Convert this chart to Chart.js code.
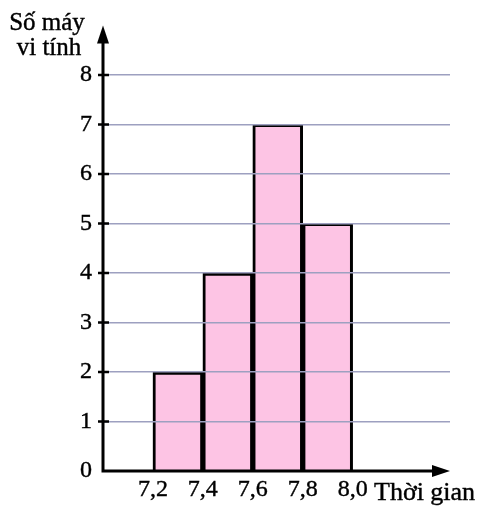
<!DOCTYPE html>
<html>
<head>
<meta charset="utf-8">
<script src="https://cdn.jsdelivr.net/npm/chart.js@4.4.0/dist/chart.umd.min.js"></script>
<style>
  body { margin: 0; background: #fff; }
  #wrap { width: 486px; height: 515px; }
</style>
</head>
<body>
<div id="wrap"><canvas id="histChart" width="486" height="515"></canvas></div>
<script>
// class midpoints (7,2-7,4 ... 7,8-8,0) and counts
const midpoints = [7.3, 7.5, 7.7, 7.9];
const counts = [2, 4, 7, 5];
const xTickValues = [7.2, 7.4, 7.6, 7.8, 8.0];
const xTickLabels = ["7,2", "7,4", "7,6", "7,8", "8,0"];
const yTickValues = [0, 1, 2, 3, 4, 5, 6, 7, 8];

const FONT = "'Liberation Serif', serif";

// axes with arrows, tick marks across the y axis, axis titles
const axisArrows = {
  id: "axisArrows",
  afterDraw(chart) {
    const ctx = chart.ctx;
    const a = chart.chartArea;
    const x0 = a.left, y0 = a.bottom;
    const ys = chart.scales.y;
    ctx.save();
    ctx.strokeStyle = "#000";
    ctx.fillStyle = "#000";
    ctx.lineWidth = 3;
    ctx.beginPath();
    ctx.moveTo(x0, y0 + 1.5);
    ctx.lineTo(x0, a.top + 14);
    ctx.moveTo(x0 - 1.5, y0);
    ctx.lineTo(a.right - 14, y0);
    ctx.stroke();
    // tick marks
    ctx.lineWidth = 2.5;
    ctx.beginPath();
    yTickValues.slice(1).forEach(v => {
      const py = ys.getPixelForValue(v);
      ctx.moveTo(x0 - 5, py);
      ctx.lineTo(x0 + 6, py);
    });
    ctx.stroke();
    // y arrow
    ctx.beginPath();
    ctx.moveTo(x0, a.top);
    ctx.lineTo(x0 - 6, a.top + 18);
    ctx.lineTo(x0 + 6, a.top + 18);
    ctx.closePath();
    ctx.fill();
    // x arrow
    ctx.beginPath();
    ctx.moveTo(a.right, y0);
    ctx.lineTo(a.right - 18, y0 - 6);
    ctx.lineTo(a.right - 18, y0 + 6);
    ctx.closePath();
    ctx.fill();

    ctx.lineWidth = 0.4;
    ctx.font = "25px " + FONT;
    ctx.textAlign = "center";
    ctx.textBaseline = "alphabetic";
    [["Số máy", 47, 30], ["vi tính", 49, 55]].forEach(t => {
      ctx.fillText(t[0], t[1], t[2]);
      ctx.strokeText(t[0], t[1], t[2]);
    });
    ctx.textAlign = "left";
    ctx.font = "26px " + FONT;
    ctx.fillText("Thời gian", 374, 500);
    ctx.strokeText("Thời gian", 374, 500);
    ctx.restore();
  }
};

new Chart(document.getElementById("histChart"), {
  type: "bar",
  data: {
    datasets: [{
      data: midpoints.map((m, i) => ({ x: m, y: counts[i] })),
      backgroundColor: "#fdc4e4",
      borderColor: "#000",
      borderWidth: 3,
      borderSkipped: "bottom",
      barPercentage: 1,
      categoryPercentage: 1
    }]
  },
  options: {
    responsive: false,
    animation: false,
    layout: { padding: { left: 0, top: 23, right: 36, bottom: 0 } },
    plugins: { legend: { display: false }, tooltip: { enabled: false } },
    scales: {
      x: {
        type: "linear",
        offset: false,
        min: 7.0,
        max: 8.39,
        afterFit: s => { s.height = 44; },
        afterBuildTicks: s => { s.ticks = xTickValues.map(v => ({ value: v })); },
        grid: { display: false, drawTicks: false },
        border: { display: false },
        ticks: {
          padding: 4,
          color: "#000",
          textStrokeColor: "#000",
          textStrokeWidth: 0.4,
          font: { family: FONT, size: 24 },
          callback: (v, i) => xTickLabels[i]
        }
      },
      y: {
        min: 0,
        max: 9,
        afterFit: s => { s.width = 103; },
        afterBuildTicks: s => { s.ticks = yTickValues.map(v => ({ value: v })); },
        grid: {
          z: 1,
          color: ctx => ctx.tick && ctx.tick.value === 0 ? "rgba(0,0,0,0)" : "#9da0c0",
          lineWidth: 1.5,
          drawTicks: false
        },
        border: { display: false },
        ticks: {
          padding: 11,
          color: "#000",
          textStrokeColor: "#000",
          textStrokeWidth: 0.4,
          font: { family: FONT, size: 24 }
        }
      }
    }
  },
  plugins: [axisArrows]
});
</script>
</body>
</html>
